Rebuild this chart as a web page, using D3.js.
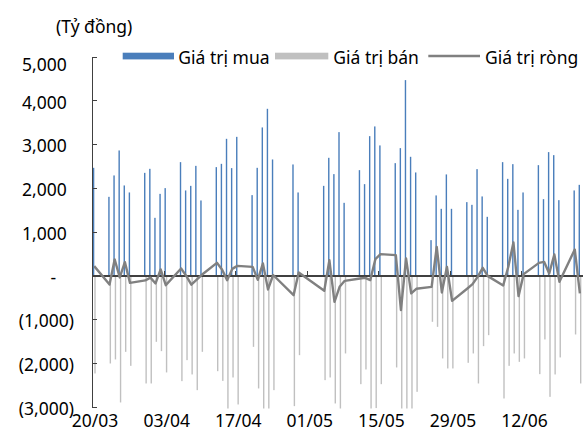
<!DOCTYPE html>
<html lang="vi">
<head>
<meta charset="utf-8">
<title>Giá trị mua / bán / ròng</title>
<script src="https://cdn.jsdelivr.net/npm/d3@7/dist/d3.min.js"></script>
<style>
  body { margin: 0; background: #fff; }
  svg text { font-family: "Noto Sans", "DejaVu Sans", sans-serif; font-size: 17.5px; fill: #000; }
  .axis path, .axis line { stroke: #404040; shape-rendering: crispEdges; }
</style>
</head>
<body>
<script>
// trading days (dd/mm, year 2026)
var days = [
  "20/03",
  "23/03","24/03","25/03","26/03","27/03",
  "30/03","31/03","01/04","02/04","03/04",
  "06/04","07/04","08/04","09/04","10/04",
  "13/04","14/04","15/04","16/04","17/04",
  "20/04","21/04","22/04","23/04","24/04",
  "28/04","29/04",
  "04/05","05/05","06/05","07/05","08/05",
  "11/05","12/05","13/05","14/05","15/05",
  "18/05","19/05","20/05","21/05","22/05",
  "25/05","26/05","27/05","28/05","29/05",
  "01/06","02/06","03/06","04/06","05/06",
  "08/06","09/06","10/06","11/06","12/06",
  "15/06","16/06","17/06","18/06","19/06",
  "22/06","23/06"
];
// Giá trị mua (tỷ đồng)
var buy = [
  2460,
  1797, 2286, 2857, 2057, 1897,
  2345, 2437, 1317, 1865, 1996,
  2590, 1943, 2048, 2505, 1714,
  2476, 2551, 3123, 2453, 3168,
  1836, 2460, 3383, 3809, 2651,
  2537, 1897,
  2048, 2689, 2316, 3276, 1660,
  2407, 2087, 3184, 3406, 2972,
  2567, 2910, 4465, 2712, 2354,
  807, 1829, 1523, 2309, 1523,
  1676, 1614, 2430, 1806, 1340,
  2590, 2208, 2544, 1500, 1897,
  2521, 1744, 2819, 2750, 1721,
  1943, 2071
];
// Giá trị bán (tỷ đồng, âm)
var sell = [
  -2240,
  -2012, -1920, -2903, -1746, -2066,
  -2469, -2469, -1517, -1730, -2217,
  -2416, -1936, -2263, -2622, -1746,
  -2188, -2410, -3230, -2332, -2949,
  -1632, -2583, -3109, -4129, -2622,
  -2987, -1822,
  -2393, -2332, -2926, -3536, -1783,
  -2485, -2149, -3291, -3033, -2485,
  -2103, -3703, -4076, -3139, -2660,
  -1060, -1175, -1897, -2126, -2126,
  -1997, -1783, -2469, -1616, -1365,
  -2812, -2066, -1783, -1975, -1897,
  -2256, -1463, -2775, -2263, -1874,
  -1349, -2469
];
// Giá trị ròng (tỷ đồng)
var net = [
  213,
  -206, 366, -46, 304, -169,
  -114, -50, -183, 137, -222,
  160, -10, -210, -100, 10,
  288, 137, -107, 150, 219,
  197, -100, 274, -320, 10,
  -450, 69,
  -351, 350, -603, -260, -123,
  -69, -55, -107, 373, 487,
  464, -793, 389, -411, -305,
  -260, 654, -389, 197, -580,
  -297, -199, -32, 174, -16,
  -229, 200, 754, -473, 30,
  288, 311, 46, 480, -146,
  594, -411
];
var xTickLabels = ["20/03", "03/04", "17/04", "01/05", "15/05", "29/05", "12/06"];
var yTicks = [5000, 4000, 3000, 2000, 1000, 0, -1000, -2000, -3000];
var seriesNames = ["Giá trị mua", "Giá trị bán", "Giá trị ròng"];
var unitLabel = "(Tỷ đồng)";

var parse = d3.utcParse("%d/%m/%Y");
var fmtDay = d3.utcFormat("%d/%m");
var data = days.map(function(d, i) {
  return { date: parse(d + "/2026"), buy: buy[i], sell: sell[i], net: net[i] };
});

var W = 588, H = 441;
var svg = d3.select("body").append("svg").attr("width", W).attr("height", H);

var x = d3.scaleUtc()
  .domain([parse("20/03/2026"), parse("24/06/2026")])
  .range([92, 582.8]);
var y = d3.scaleLinear().domain([-3000, 5000]).range([406.7, 56.7]);

svg.append("clipPath").attr("id", "plot")
  .append("rect").attr("x", 92).attr("y", 50).attr("width", 492).attr("height", 358.5);

var bars = svg.append("g").attr("clip-path", "url(#plot)");
bars.selectAll("rect.buy").data(data).enter().append("rect")
  .attr("class", "buy")
  .attr("x", function(d) { return x(d.date) + 0.9; })
  .attr("width", 1.4)
  .attr("y", function(d) { return y(d.buy); })
  .attr("height", function(d) { return y(0) - y(d.buy); })
  .attr("fill", "#4a7ebb");
bars.selectAll("rect.sell").data(data).enter().append("rect")
  .attr("class", "sell")
  .attr("x", function(d) { return x(d.date) + 2.3; })
  .attr("width", 1.4)
  .attr("y", y(0))
  .attr("height", function(d) { return y(d.sell) - y(0); })
  .attr("fill", "#c0c0c0");

// horizontal axis on zero line, tick marks pointing up
var tickDates = xTickLabels.map(function(t) { return parse(t + "/2026"); });
svg.append("g").attr("class", "axis")
  .attr("transform", "translate(0," + y(0) + ")")
  .call(d3.axisTop(x).tickValues(tickDates).tickSize(4).tickSizeOuter(0).tickFormat(""))
  .select(".domain").attr("stroke-width", 1.5);

// date labels at the bottom
var xl = svg.append("g")
  .attr("transform", "translate(2.6,406.7)")
  .call(d3.axisBottom(x).tickValues(tickDates).tickSize(0).tickPadding(8).tickFormat(fmtDay));
xl.select(".domain").remove();
xl.selectAll("text").attr("font-family", null).attr("font-size", null);

// vertical axis, ticks pointing inward
var fmt = d3.format(",");
var ya = svg.append("g").attr("class", "axis")
  .attr("transform", "translate(92,0)")
  .call(d3.axisLeft(y).tickValues(yTicks).tickSizeInner(-5).tickSizeOuter(0).tickPadding(25.3)
    .tickFormat(function(v) { return v > 0 ? fmt(v) : v < 0 ? "(" + fmt(-v) + ")" : "-"; }));
ya.selectAll("text").attr("font-family", null).attr("font-size", null)
  .attr("transform", function(v) { return "translate(0," + (v === 5000 ? 8 : 2) + ")"; })
  .attr("x", function(v) { return v < 0 ? -18 : v === 0 ? -38.7 : -25.3; })
  .attr("text-anchor", function(v) { return v === 0 ? "middle" : "end"; });

// net line
svg.append("path").datum(data)
  .attr("fill", "none")
  .attr("stroke", "#808080")
  .attr("stroke-width", 2.4)
  .attr("stroke-linejoin", "round")
  .attr("d", d3.line()
    .x(function(d) { return x(d.date) + 2.2; })
    .y(function(d) { return y(d.net); }));

// unit label
svg.append("text").attr("x", 56).attr("y", 33).text(unitLabel);

// legend
var lg = svg.append("g");
lg.append("rect").attr("x", 122.7).attr("y", 52.7).attr("width", 51.3).attr("height", 6.7).attr("fill", "#4a7ebb");
lg.append("text").attr("x", 178.3).attr("y", 63.5).text(seriesNames[0]);
lg.append("rect").attr("x", 275).attr("y", 52.7).attr("width", 53.3).attr("height", 6.7).attr("fill", "#c0c0c0");
lg.append("text").attr("x", 333.3).attr("y", 63.5).text(seriesNames[1]);
lg.append("line").attr("x1", 428.3).attr("x2", 480).attr("y1", 56).attr("y2", 56)
  .attr("stroke", "#808080").attr("stroke-width", 2.4);
lg.append("text").attr("x", 485).attr("y", 63.5).text(seriesNames[2]);
</script>
</body>
</html>
